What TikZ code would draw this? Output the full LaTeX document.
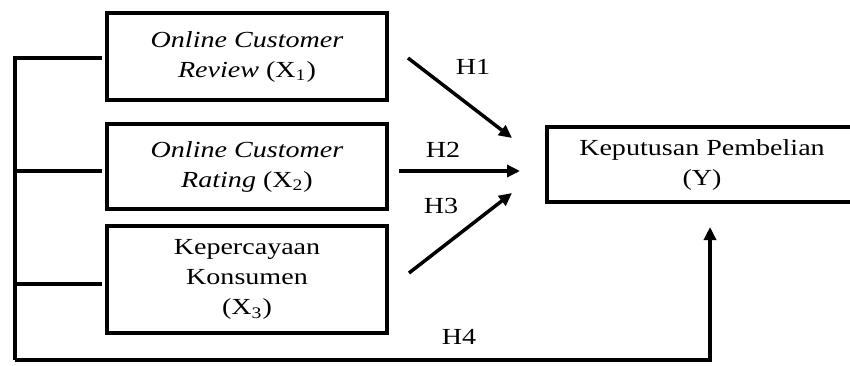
\documentclass[tikz,border=0pt]{standalone}
\usepackage{fontspec}
\setmainfont{Liberation Serif}[FakeStretch=1.22]
\usetikzlibrary{arrows.meta}
\tikzset{
  varbox/.style={draw, line width=1.75pt, align=center, inner sep=0pt,
    font=\fontsize{11.5}{15}\selectfont},
  boxtext/.style={align=center, inner sep=0pt, font=\fontsize{11.5}{15}\selectfont},
  link/.style={line width=1.75pt},
  arr/.style={line width=1.75pt, -{Triangle[length=6.5pt,width=6pt]}},
  hlab/.style={font=\fontsize{11.5}{15}\selectfont, inner sep=0pt}
}
\begin{document}
\begin{tikzpicture}[x=0.5pt,y=-0.5pt]
\useasboundingbox (0,0) rectangle (850,365);
% boxes
\node[varbox, minimum width=140pt, minimum height=43.5pt] (x1) at (247,56.5)
  {\textit{Online Customer}\\\textit{Review} (X\textsubscript{1})};
\node[varbox, minimum width=140pt, minimum height=42.5pt] (x2) at (247,166.5)
  {\textit{Online Customer}\\\textit{Rating} (X\textsubscript{2})};
\node[varbox, minimum width=140pt, minimum height=53.5pt] (x3) at (247,279.5)
  {Kepercayaan\\Konsumen\\(X\textsubscript{3})};
\node[varbox, minimum width=170pt, minimum height=37.5pt] (y) at (717,164.5) {};
\node[boxtext] (ytext) at (702,164.5) {Keputusan Pembelian\\(Y)};
% left bracket
\coordinate (s1) at (102,58);
\coordinate (s2) at (102,171);
\coordinate (s3) at (102,284);
\coordinate (l1) at (15,58);
\coordinate (l2) at (15,171);
\coordinate (l3) at (15,284);
\coordinate (lb) at (15,360);
\coordinate (rb) at (710,360);
\coordinate (yt) at (710,227);
\draw[link] (s1) -- (l1) -- (lb);
\draw[link] (l2) -- (s2);
\draw[link] (l3) -- (s3);
\draw[arr] (lb) -- (rb) -- (yt);
% hypothesis arrows
\coordinate (a1s) at (408,58);  \coordinate (a1e) at (512,138);
\coordinate (a2s) at (399,171); \coordinate (a2e) at (520,171);
\coordinate (a3s) at (409,273); \coordinate (a3e) at (512,193);
\draw[arr] (a1s) -- (a1e);
\draw[arr] (a2s) -- (a2e);
\draw[arr] (a3s) -- (a3e);
% labels
\node[hlab] (h1) at (473,67) {H1};
\node[hlab] (h2) at (443,150) {H2};
\node[hlab] (h3) at (441,206) {H3};
\node[hlab] (h4) at (459,337) {H4};
\end{tikzpicture}
\end{document}
